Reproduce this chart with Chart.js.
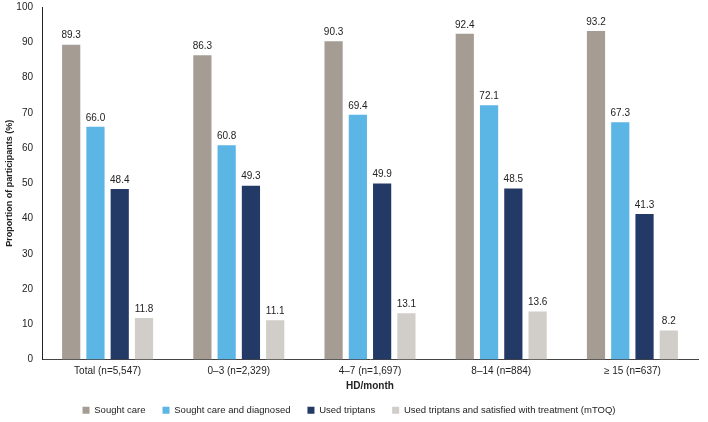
<!DOCTYPE html>
<html>
<head>
<meta charset="utf-8">
<script src="https://cdn.jsdelivr.net/npm/chart.js@4"></script>
<style>
	html, body { margin: 0; padding: 0; background: #fff; }
	.container_ { width: 708px; height: 422px; position: relative; }
</style>
</head>
<body>
<div class="container_"><canvas id="bars"></canvas></div>
<script>
// chart data
var categories = ['Total (n=5,547)', '0\u20133 (n=2,329)', '4\u20137 (n=1,697)', '8\u201314 (n=884)', '\u2265 15 (n=637)']
var soughtCare = [89.3, 86.3, 90.3, 92.4, 93.2]
var soughtDiagnosed = [66.0, 60.8, 69.4, 72.1, 67.3]
var usedTriptans = [48.4, 49.3, 49.9, 48.5, 41.3]
var satisfied = [11.8, 11.1, 13.1, 13.6, 8.2]
var seriesNames = ['Sought care', 'Sought care and diagnosed', 'Used triptans', 'Used triptans and satisfied with treatment (mTOQ)']

Chart.defaults.font.family = '"Liberation Sans", Arial, sans-serif'
Chart.defaults.color = '#222'

// draws the value above every bar
const valueLabels = {
	id: 'valueLabels',
	afterDatasetsDraw(chart) {
		const ctx = chart.ctx
		ctx.save()
		ctx.font = '10px "Liberation Sans", Arial, sans-serif'
		ctx.fillStyle = '#222'
		ctx.textAlign = 'center'
		ctx.textBaseline = 'bottom'
		chart.data.datasets.forEach((ds, i) => {
			chart.getDatasetMeta(i).data.forEach((bar, j) => {
				ctx.fillText(ds.data[j].toFixed(1), bar.x, bar.y - 4)
			})
		})
		ctx.restore()
	}
}

function dataset(label, data, color) {
	return {
		label: label,
		data: data,
		backgroundColor: color,
		borderWidth: 0,
		categoryPercentage: 0.74,
		barPercentage: 0.75
	}
}

new Chart(document.getElementById('bars').getContext('2d'), {
	type: 'bar',
	data: {
		labels: categories,
		datasets: [
			dataset(seriesNames[0], soughtCare, '#a59c94'),
			dataset(seriesNames[1], soughtDiagnosed, '#5bb5e5'),
			dataset(seriesNames[2], usedTriptans, '#243a66'),
			dataset(seriesNames[3], satisfied, '#d1cdc9')
		]
	},
	options: {
		responsive: true,
		maintainAspectRatio: false,
		animation: false,
		layout: { padding: { top: 7, right: 10, left: 0, bottom: -3 } },
		scales: {
			x: {
				grid: { display: false, drawTicks: false },
				border: { color: '#444', width: 1 },
				ticks: { font: { size: 10 }, padding: 6, maxRotation: 0 },
				title: { display: true, text: 'HD/month', font: { size: 10, weight: 'bold' }, padding: { top: -3, bottom: -4 } }
			},
			y: {
				min: 0,
				max: 100,
				grid: { display: false, drawTicks: false },
				border: { color: '#222', width: 1 },
				ticks: { stepSize: 10, font: { size: 10 }, padding: 9 },
				title: { display: true, text: 'Proportion of participants (%)', font: { size: 9, weight: 'bold' }, padding: { top: 4, bottom: 0 } },
				afterFit(scale) {
					scale.width = 42
					scale.paddingTop = 0
				}
			}
		},
		plugins: {
			legend: {
				position: 'bottom',
				labels: { boxWidth: 7, boxHeight: 7, padding: 17, font: { size: 9.5 } }
			},
			tooltip: { enabled: false }
		}
	},
	plugins: [valueLabels]
})
</script>
</body>
</html>
